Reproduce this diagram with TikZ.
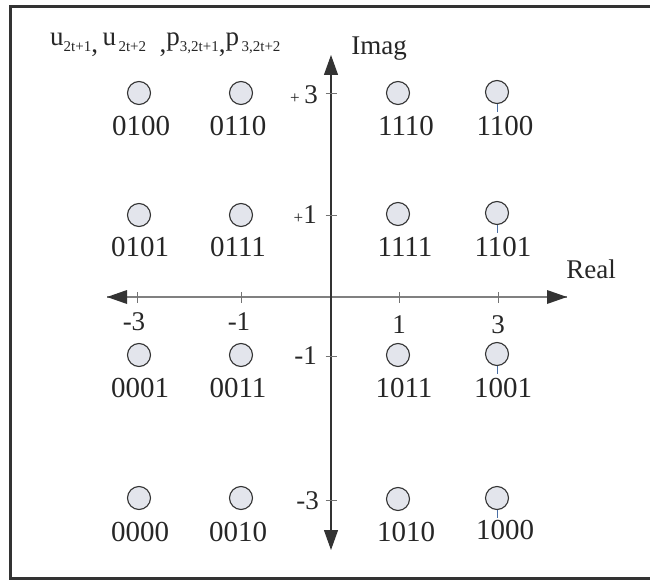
\documentclass[tikz,border=0pt]{standalone}
\usepackage{fontspec}
\setmainfont{Liberation Serif}
\usetikzlibrary{arrows.meta}
\newcommand{\hsub}[1]{\raisebox{-5.5pt}{\fontsize{15}{15}\selectfont #1}}
\newcommand{\lowc}{\raisebox{-6.5pt}{,}}
\begin{document}
\begin{tikzpicture}[x=1pt,y=-1pt,
  pt/.style={circle,draw=black!80,fill=ptfill,line width=1.1pt,minimum size=23pt,inner sep=0pt},
  code/.style={inner sep=0pt,font=\fontsize{29}{30}\selectfont,text=black!85},
  lbl/.style={inner sep=0pt,font=\fontsize{27}{28}\selectfont,text=black!85},
  tick/.style={line width=0.8pt,draw=black!55},
  lead/.style={line width=1pt,draw=leadblue},
  tip/.style={-{Triangle[length=20pt,width=14pt]}}]
\definecolor{ptfill}{HTML}{E3E5EC}
\definecolor{leadblue}{HTML}{4A6FA5}
\useasboundingbox (0,0) rectangle (650,580);
\draw[line width=3pt,black!80] (10.5,6.5) rectangle (651,578.5);
% axes
\coordinate (xl) at (107,297);
\coordinate (xr) at (567,297);
\coordinate (yt) at (331,55);
\coordinate (yb) at (331,550);
\coordinate (o) at (331,297);
\draw[line width=1.4pt,black!50] (o) -- (xl);
\draw[line width=1.4pt,black!50] (o) -- (xr);
\fill[black!80] (xl) -- ++(20,-7) -- ++(0,14) -- cycle;
\fill[black!80] (xr) -- ++(-20,-7) -- ++(0,14) -- cycle;
\draw[line width=1.2pt,black!80,tip] (o) -- (yt);
\draw[line width=1.2pt,black!80,tip] (o) -- (yb);
% ticks
\foreach \x in {137,241,399,498} \draw[tick] (\x,292) -- (\x,303);
\foreach \y in {93,215,356,500} \draw[tick] (325.5,\y) -- (336.5,\y);
% tick labels
\node[lbl,anchor=east] (t3) at (318,95) {{\fontsize{17}{17}\selectfont +}\,3};
\node[lbl,anchor=east] (t1) at (317,215) {{\fontsize{17}{17}\selectfont +}1};
\node[lbl,anchor=east] (tm1) at (317,356) {-1};
\node[lbl,anchor=east] (tm3) at (319,501) {-3};
\node[lbl] (xm3) at (134,322) {-3};
\node[lbl] (xm1) at (239,322) {-1};
\node[lbl] (x1) at (399,325) {1};
\node[lbl] (x3) at (498,325) {3};
\node[lbl,anchor=base] (imag) at (379,55) {Imag};
\node[lbl,anchor=base] (real) at (591,278) {Real};
% header
\node[inner sep=0pt,anchor=base west,font=\fontsize{27}{28}\selectfont,text=black!85] (hdr) at (50,46)
  {u\hsub{2t+1}\lowc\,u\hsub{\,2t+2}\ \ \lowc p\hsub{3,2t+1}\lowc p\hsub{\,3,2t+2}};
% constellation points
\foreach \n/\x/\y/\lx/\ly in {
  0100/139/93/141/126, 0110/241/93/238/126, 1110/398/93/406/126, 1100/497/92/505/126,
  0101/139/215/140/247, 0111/241/215/238/247, 1111/398/214/405/247, 1101/497/213/503/247,
  0001/139/355/140/388, 0011/241/355/238/388, 1011/398/355/404/388, 1001/497/354/503/388,
  0000/139/498/140/532, 0010/241/498/238/532, 1010/398/499/406/532, 1000/497/498/505/530}{
  \node[pt] (p\n) at (\x,\y) {};
  \node[code] (c\n) at (\lx,\ly) {\n};
}
\foreach \n in {1100,1101,1001,1000} \draw[lead] (p\n.south) -- ++(0,8);
\end{tikzpicture}
\end{document}
